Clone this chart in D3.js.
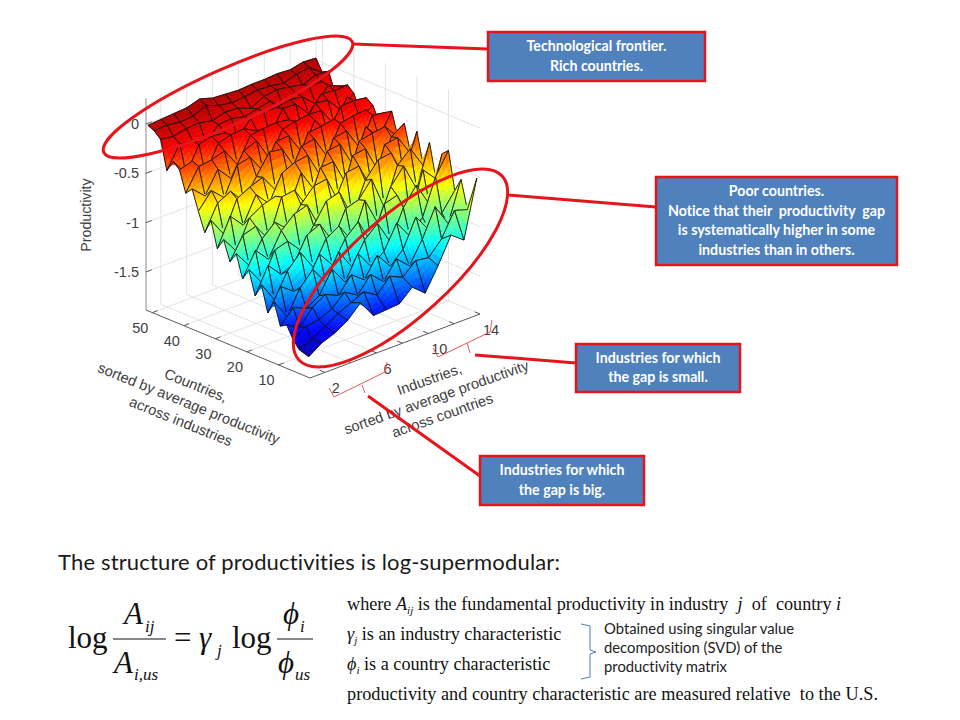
<!DOCTYPE html>
<html><head><meta charset="utf-8">
<script src="https://cdnjs.cloudflare.com/ajax/libs/d3/7.8.5/d3.min.js"></script>
<style>html,body{margin:0;padding:0;background:#fff}svg{display:block}text{white-space:pre;font-variant-ligatures:none}</style></head>
<body><svg id="c" width="960" height="720"></svg>
<script>
const industries=[1,2,3,4,5,6,7,8,9,10,11,12,13,14];
const countries=[52,50,48,46,44,42,40,38,36,34,32,30,28,26,24,22,20,18,16,14,12,10,8,6,4,1];
const productivity=[
[-0.02,-0.01,0,0.01,0.05,0.01,0,-0.01,0,0,0.01,0,0.03,0.02],
[-0.05,-0.04,-0.06,-0.05,0.01,-0.04,-0.06,-0.05,-0.03,-0.04,-0.06,-0.02,0,-0.10],
[-0.11,-0.13,-0.10,-0.09,-0.12,-0.08,-0.09,-0.14,-0.07,-0.05,-0.07,-0.10,-0.05,-0.06],
[-0.40,-0.18,-0.20,-0.26,-0.13,-0.12,-0.15,-0.12,-0.09,-0.20,-0.11,-0.08,-0.09,-0.25],
[-0.28,-0.46,-0.21,-0.17,-0.19,-0.30,-0.14,-0.12,-0.13,-0.10,-0.12,-0.24,-0.10,-0.16],
[-0.34,-0.30,-0.48,-0.22,-0.18,-0.17,-0.24,-0.34,-0.11,-0.12,-0.26,-0.11,-0.13,-0.12],
[-0.55,-0.33,-0.31,-0.27,-0.46,-0.21,-0.19,-0.18,-0.20,-0.36,-0.13,-0.15,-0.30,-0.18],
[-0.48,-0.60,-0.38,-0.52,-0.29,-0.24,-0.47,-0.22,-0.19,-0.17,-0.18,-0.37,-0.14,-0.34],
[-0.68,-0.52,-0.64,-0.36,-0.33,-0.52,-0.27,-0.26,-0.48,-0.20,-0.38,-0.16,-0.15,-0.17],
[-0.87,-0.62,-0.55,-0.70,-0.50,-0.30,-0.32,-0.56,-0.25,-0.24,-0.21,-0.41,-0.30,-0.22],
[-0.72,-0.91,-0.60,-0.53,-0.48,-0.66,-0.58,-0.31,-0.29,-0.52,-0.23,-0.20,-0.19,-0.36],
[-0.98,-0.70,-0.84,-0.58,-0.72,-0.46,-0.40,-0.38,-0.64,-0.30,-0.28,-0.50,-0.22,-0.24],
[-0.86,-1.03,-0.74,-0.66,-0.62,-0.82,-0.48,-0.70,-0.36,-0.34,-0.60,-0.26,-0.42,-0.20],
[-1.06,-0.84,-0.80,-0.98,-0.60,-0.58,-0.80,-0.45,-0.44,-0.72,-0.33,-0.30,-0.28,-0.44],
[-0.95,-1.12,-0.90,-0.78,-0.90,-0.70,-0.56,-0.54,-0.84,-0.40,-0.38,-0.66,-0.36,-0.27],
[-1.18,-0.94,-1.08,-0.84,-0.72,-0.68,-0.96,-0.78,-0.50,-0.48,-0.76,-0.36,-0.34,-0.55],
[-1.06,-1.24,-0.96,-0.92,-1.06,-0.86,-0.66,-0.62,-0.92,-0.60,-0.44,-0.42,-0.70,-0.30],
[-1.30,-1.04,-1.18,-1.12,-0.88,-0.82,-1.04,-0.76,-0.72,-0.56,-0.90,-0.52,-0.40,-0.62],
[-1.16,-1.36,-1.12,-0.98,-1.18,-0.94,-0.86,-1.06,-0.70,-0.98,-0.66,-0.50,-0.78,-0.36],
[-1.42,-1.20,-1.30,-1.26,-1.02,-1.18,-0.96,-0.84,-1.10,-0.76,-0.72,-1.00,-0.56,-0.70],
[-1.28,-1.48,-1.24,-1.10,-1.28,-1.02,-1.22,-1.00,-0.88,-1.12,-0.82,-0.64,-0.88,-0.42],
[-1.50,-1.36,-1.42,-1.34,-1.12,-1.30,-1.06,-1.24,-1.14,-0.90,-1.08,-0.94,-0.58,-0.36],
[-1.46,-1.54,-1.38,-1.30,-1.36,-1.20,-1.30,-1.10,-1.26,-1.14,-0.86,-1.04,-0.92,-0.74],
[-1.58,-1.50,-1.48,-1.42,-1.30,-1.38,-1.22,-1.34,-1.16,-1.28,-1.06,-0.78,-1.00,-0.60],
[-1.66,-1.60,-1.52,-1.44,-1.38,-1.32,-1.40,-1.26,-1.32,-1.20,-1.22,-1.08,-0.84,-0.88],
[-1.69,-1.60,-1.55,-1.47,-1.34,-1.52,-1.51,-1.50,-1.38,-1.49,-1.26,-1.00,-1.10,-0.52]];
const industryTicks=[2,4,6,8,10,12,14];
const industryLabels=[2,6,10,14];
const countryTicks=[10,20,30,40,50];
const zTicks=[0,-0.5,-1,-1.5];
const jetStops=["#00007f","#0000ff","#00ffff","#ffff00","#ff0000","#b00000"];

const svg=d3.select("#c");
const OX=310,OY=378;
const xLim=[0.85,14],cLim=[0,52],zLim=[-1.886,0.26];
const xPx=d3.scaleLinear(xLim,[0,170]),xPy=d3.scaleLinear(xLim,[0,-64]);
const cPx=d3.scaleLinear(cLim,[0,-164]),cPy=d3.scaleLinear(cLim,[0,-68]);
const zPy=d3.scaleLinear(zLim,[0,-211.6]);
const P=(x,c,z)=>[OX+xPx(x)+cPx(c),OY+xPy(x)+cPy(c)+zPy(z)];
const tJet=d3.scaleLinear([-1.76,0.0],[0,1]).clamp(true);
const jetMap=d3.scaleLinear([0,.125,.375,.625,.875,1],jetStops).clamp(true);
const color=z=>jetMap(tJet(z));
const line=d3.line();
const seg=(g,a,b,st,w)=>g.append("path").attr("d",line([a,b])).attr("fill","none").attr("stroke",st).attr("stroke-width",w);

// grid
const g=svg.append("g");
const GC="#e3e3e3";
for(const t of industryTicks){
 seg(g,P(t,cLim[0],zLim[0]),P(t,cLim[1],zLim[0]),GC,1);
 seg(g,P(t,cLim[1],zLim[0]),P(t,cLim[1],zLim[1]),GC,1);
}
for(const t of countryTicks){
 seg(g,P(xLim[0],t,zLim[0]),P(xLim[1],t,zLim[0]),GC,1);
 seg(g,P(xLim[1],t,zLim[0]),P(xLim[1],t,zLim[1]),GC,1);
}
for(const t of zTicks){
 seg(g,P(xLim[0],cLim[1],t),P(xLim[1],cLim[1],t),GC,1);
 seg(g,P(xLim[1],cLim[1],t),P(xLim[1],cLim[0],t),GC,1);
}
// axes
const AC="#5a5a5a";
const a=svg.append("g");
seg(a,P(xLim[0],cLim[1],zLim[0]),P(xLim[0],cLim[0],zLim[0]),AC,1);
seg(a,P(xLim[0],cLim[0],zLim[0]),P(xLim[1],cLim[0],zLim[0]),AC,1);
seg(a,P(xLim[0],cLim[1],zLim[0]),P(xLim[0],cLim[1],zLim[1]),"#8a8a8a",1);
for(const t of industryTicks) seg(a,P(t,0,zLim[0]),P(t,1.6,zLim[0]),AC,1);
for(const t of countryTicks) seg(a,P(xLim[0],t,zLim[0]),P(xLim[0]+.4,t,zLim[0]),AC,1);
for(const t of zTicks) seg(a,P(xLim[0],cLim[1],t),P(xLim[0]+.45,cLim[1],t),AC,1);

// surface
const s=svg.append("g");
const N=4;
for(let r=0;r<countries.length-1;r++){
 for(let k=industries.length-2;k>=0;k--){
  const c0=countries[r],c1=countries[r+1],x0=industries[k],x1=industries[k+1];
  const z00=productivity[r][k],z01=productivity[r][k+1],z10=productivity[r+1][k],z11=productivity[r+1][k+1];
  const Z=(u,v)=>d3.interpolateNumber(d3.interpolateNumber(z00,z01)(u),d3.interpolateNumber(z10,z11)(u))(v);
  const Q=(u,v)=>P(x0+(x1-x0)*u,c0+(c1-c0)*v,Z(u,v));
  for(let j=0;j<N;j++)for(let i=0;i<N;i++){
   const u=i/N,v=j/N,d=1/N,col=color(Z(u+d/2,v+d/2));
   s.append("path").attr("d",line([Q(u,v),Q(u+d,v),Q(u+d,v+d),Q(u,v+d)])+"Z").attr("fill",col).attr("stroke",col).attr("stroke-width",.6);
  }
  s.append("path").attr("d",line([Q(0,0),Q(1,0),Q(1,1),Q(0,1)])+"Z").attr("fill","none").attr("stroke","#141414").attr("stroke-width",.9).attr("stroke-linejoin","round");
 }
}

// tick labels
const TF="'Liberation Sans',Arial,sans-serif",TC="#404040";
const txt=(x,y,t,o={})=>{const e=svg.append("text").attr("x",x).attr("y",y).attr("font-family",o.f||TF).attr("font-size",o.s||14.5).attr("fill",o.c||TC).attr("text-anchor",o.a||"start").attr("font-weight",o.w||"normal").attr("font-style",o.i?"italic":"normal").text(t);if(o.r!=null)e.attr("transform",`rotate(${o.r} ${x} ${y})`);if(o.l)e.attr("textLength",o.l).attr("lengthAdjust","spacing");return e;};
for(const t of zTicks) txt(139,P(xLim[0],cLim[1],t)[1]+5,String(t),{a:"end"});
for(const t of industryLabels){const p=P(t,0,zLim[0]);txt(p[0]+11,p[1]+21,String(t),{a:"middle"});}
for(const t of countryTicks){const p=P(xLim[0],t,zLim[0]);txt(p[0]-12,p[1]+20,String(t),{a:"middle"});}
txt(91,215,"Productivity",{a:"middle",r:-90,s:14.2});
[["Countries,",194,390],["sorted by average productivity",187,408],["across industries",179,426]].forEach(d=>txt(d[1],d[2],d[0],{a:"middle",r:22,s:14.6}));
[["Industries,",431,384],["sorted by average productivity",438,402],["across countries",444,420]].forEach(d=>txt(d[1],d[2],d[0],{a:"middle",r:-19.5,s:14.6}));

// annotations
const R="#e8141c";
const n=svg.append("g").attr("fill","none").attr("stroke",R);
n.append("ellipse").attr("cx",228).attr("cy",97).attr("rx",136).attr("ry",28).attr("transform","rotate(-24 228 97)").attr("stroke-width",3);
n.append("ellipse").attr("cx",400.5).attr("cy",268).attr("rx",137).attr("ry",50).attr("transform","rotate(-42 400.5 268)").attr("stroke-width",3);
[[[353,44],[488,49]],[[508,195],[656,207]],[[475,355],[576,363]],[[368,396],[480,476]]].forEach(l=>n.append("path").attr("d",line(l)).attr("stroke-width",3));
const B="#e25a5e";
[[[329,388],[334,397],[385,372],[387,362]],[[362,385],[365,393]],[[433,348],[438,357],[490,332],[492,320]],[[467,343],[470,353]]].forEach(l=>n.append("path").attr("d",line(l)).attr("stroke",B).attr("stroke-width",1));
const boxes=[
 {x:488,y:32,w:217,h:49,t:["Technological frontier.","Rich countries."]},
 {x:656,y:177,w:241,h:88,t:["Poor countries.","Notice that their  productivity  gap","is systematically higher in some","industries than in others."]},
 {x:576,y:344,w:164,h:48,t:["Industries for which","the gap is small."]},
 {x:480,y:456,w:164,h:49,t:["Industries for which","the gap is big."]}];
for(const b of boxes){
 svg.append("rect").attr("x",b.x).attr("y",b.y).attr("width",b.w).attr("height",b.h).attr("fill","#4f81bd").attr("stroke","#e8141c").attr("stroke-width",2.5);
 const lh=19.5,top=b.y+b.h/2-lh*b.t.length/2+14;
 b.t.forEach((t,i)=>txt(b.x+b.w/2,top+i*lh,t,{a:"middle",f:"Lato,sans-serif",s:14.2,c:"#fff",w:"bold"}));
}
// heading
txt(58,570,"The structure of productivities is log-supermodular:",{f:"Lato,sans-serif",s:22,c:"#1a1a1a",l:502});
// formula
const SF="'Liberation Serif',serif",K="#111";
txt(68,648,"log",{f:SF,s:31,c:K});
txt(124,624,"A",{f:SF,s:31,c:K,i:1}); txt(145,632,"ij",{f:SF,s:17,c:K,i:1});
txt(114,673,"A",{f:SF,s:31,c:K,i:1}); txt(134,680,"i,us",{f:SF,s:17,c:K,i:1});
seg(svg,[113,639],[166,639],K,1.2);
txt(174,648,"=",{f:SF,s:31,c:K});
txt(199,648,"γ",{f:SF,s:31,c:K,i:1}); txt(217,656,"j",{f:SF,s:17,c:K,i:1});
txt(232,648,"log",{f:SF,s:31,c:K});
txt(283,624,"ϕ",{f:SF,s:31,c:K,i:1}); txt(300,632,"i",{f:SF,s:17,c:K,i:1});
seg(svg,[277,639],[313,639],K,1.2);
txt(278,673,"ϕ",{f:SF,s:31,c:K,i:1}); txt(295,680,"us",{f:SF,s:17,c:K,i:1});
// explanation
const rich=(x,y,parts)=>{const e=svg.append("text").attr("x",x).attr("y",y).attr("font-family",SF).attr("font-size",18.2).attr("fill",K);
 parts.forEach(p=>{const t=e.append("tspan").text(p[0]);if(p[1])t.attr("font-style","italic");if(p[2])t.attr("font-size",11).attr("dy",4);if(p[3])t.attr("dy",-4);});return e;};
rich(347,610,[["where "],["A",1],["ij",1,1],[" is the fundamental productivity in industry  ",0,0,1],["j",1],["  of  country "],["i",1]]);
rich(347,640,[["γ",1],["j",1,1],[" is an industry characteristic",0,0,1]]);
rich(347,670,[["ϕ",1],["i",1,1],[" is a country characteristic",0,0,1]]);
txt(347,700,"productivity and country characteristic are measured relative  to the U.S.",{f:SF,s:18.2,c:K,l:531});
["Obtained using singular value","decomposition (SVD) of the","productivity matrix"].forEach((t,i)=>txt(604,634+i*19,t,{f:"Lato,sans-serif",s:14.8,c:"#222"}));
svg.append("path").attr("d",line([[581,624],[590,626],[590,650],[596,652],[590,654],[590,677],[581,679]])).attr("fill","none").attr("stroke","#4a7ebb").attr("stroke-width",1);
</script></body></html>
